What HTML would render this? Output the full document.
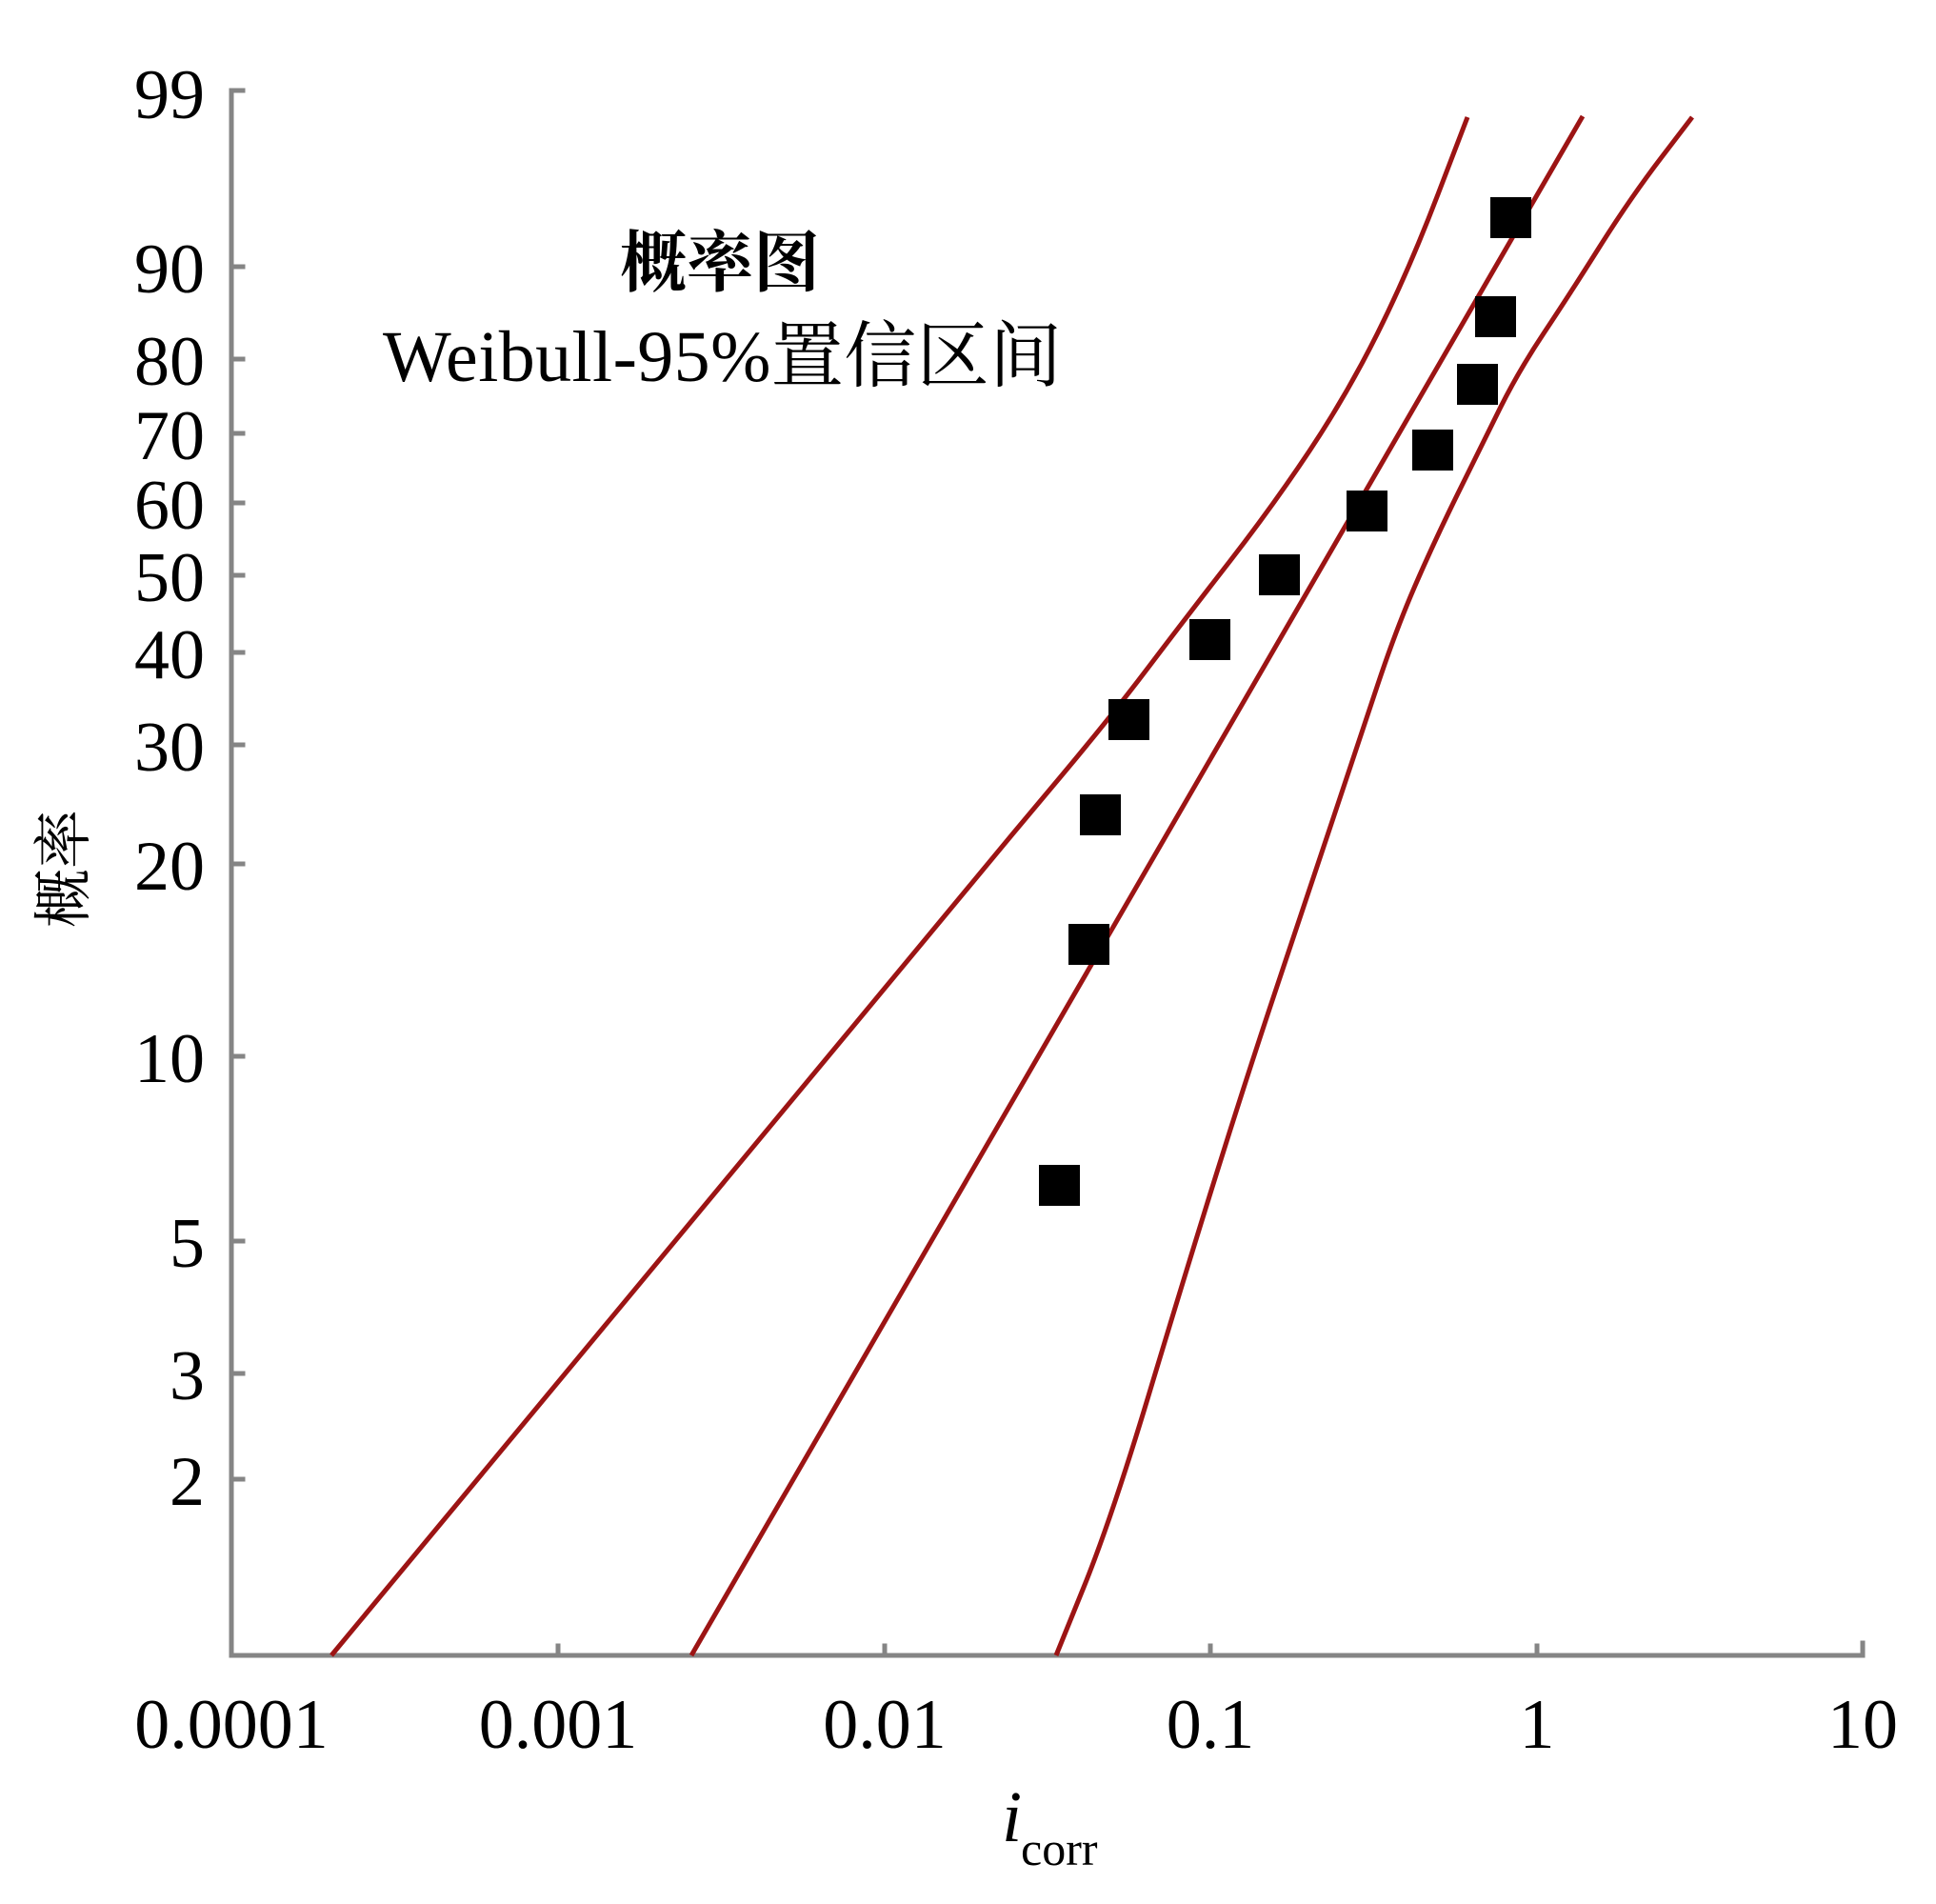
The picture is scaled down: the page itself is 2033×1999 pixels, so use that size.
<!DOCTYPE html>
<html><head><meta charset="utf-8"><style>
html,body{margin:0;padding:0;background:#fff}
svg{display:block}
text{font-family:"Liberation Serif","Noto Serif CJK SC",serif;fill:#000}
</style></head><body>
<svg width="2033" height="1999" viewBox="0 0 2033 1999" xmlns="http://www.w3.org/2000/svg">
<g stroke="#858585" stroke-width="5" fill="none" stroke-linecap="square">
<polyline points="255,95 243,95 243,1738 1956,1738 1956,1725"/>
<line x1="243" y1="280" x2="255" y2="280"/>
<line x1="243" y1="377" x2="255" y2="377"/>
<line x1="243" y1="455" x2="255" y2="455"/>
<line x1="243" y1="528" x2="255" y2="528"/>
<line x1="243" y1="604" x2="255" y2="604"/>
<line x1="243" y1="685" x2="255" y2="685"/>
<line x1="243" y1="782" x2="255" y2="782"/>
<line x1="243" y1="907" x2="255" y2="907"/>
<line x1="243" y1="1109" x2="255" y2="1109"/>
<line x1="243" y1="1303" x2="255" y2="1303"/>
<line x1="243" y1="1442" x2="255" y2="1442"/>
<line x1="243" y1="1553" x2="255" y2="1553"/>
<line x1="586" y1="1738" x2="586" y2="1728"/>
<line x1="929" y1="1738" x2="929" y2="1728"/>
<line x1="1271" y1="1738" x2="1271" y2="1728"/>
<line x1="1614" y1="1738" x2="1614" y2="1728"/>
</g>
<g font-size="74" text-anchor="end">
<text x="215" y="124">99</text>
<text x="215" y="307">90</text>
<text x="215" y="404">80</text>
<text x="215" y="482">70</text>
<text x="215" y="555">60</text>
<text x="215" y="631">50</text>
<text x="215" y="712">40</text>
<text x="215" y="809">30</text>
<text x="215" y="934">20</text>
<text x="215" y="1136">10</text>
<text x="215" y="1330">5</text>
<text x="215" y="1469">3</text>
<text x="215" y="1580">2</text>
</g>
<g font-size="74" text-anchor="middle">
<text x="243" y="1835">0.0001</text>
<text x="586" y="1835">0.001</text>
<text x="929" y="1835">0.01</text>
<text x="1271" y="1835">0.1</text>
<text x="1614" y="1835">1</text>
<text x="1956" y="1835">10</text>
</g>
<text x="1052" y="1933" font-size="76" font-style="italic">i</text>
<text x="1072" y="1958" font-size="50">corr</text>
<text transform="translate(88,912) rotate(-90)" font-size="62" text-anchor="middle">概率</text>
<text x="756" y="300" font-size="70" font-weight="bold" text-anchor="middle">概率图</text>
<text x="402" y="400" font-size="76" textLength="713">Weibull-95%置信区间</text>
<g stroke="#9c1414" stroke-width="5" fill="none" stroke-linejoin="round">
<path d="M348,1738 L1063,876 L1115,814 Q1167,752 1206,700.5 Q1245,649 1290.5,590.5 Q1336,532 1375,473.5 Q1414,415 1446.5,350 Q1479,285 1510,204 L1541,123"/>
<line x1="726" y1="1738" x2="1662" y2="122"/>
<path d="M1777,123 L1744.5,165.5 Q1712,208 1679.5,259.5 Q1647,311 1621,350 Q1595,389 1575.5,428 Q1556,467 1530.5,519 Q1505,571 1485.5,616 Q1466,661 1446.5,719.5 Q1427,778 1401,856 Q1375,934 1342.5,1031 Q1310,1128 1277.5,1232 Q1245,1336 1206,1465.5 Q1167,1595 1138,1666.5 L1109,1738"/>
</g>
<g fill="#000">
<rect x="1565" y="207" width="43" height="43"/>
<rect x="1549" y="311" width="43" height="43"/>
<rect x="1530" y="382" width="43" height="43"/>
<rect x="1483" y="451" width="43" height="43"/>
<rect x="1414" y="515" width="43" height="43"/>
<rect x="1322" y="582" width="43" height="43"/>
<rect x="1249" y="650" width="43" height="43"/>
<rect x="1164" y="734" width="43" height="43"/>
<rect x="1134" y="834" width="43" height="43"/>
<rect x="1122" y="970" width="43" height="43"/>
<rect x="1091" y="1223" width="43" height="43"/>
</g>
</svg>
</body></html>
